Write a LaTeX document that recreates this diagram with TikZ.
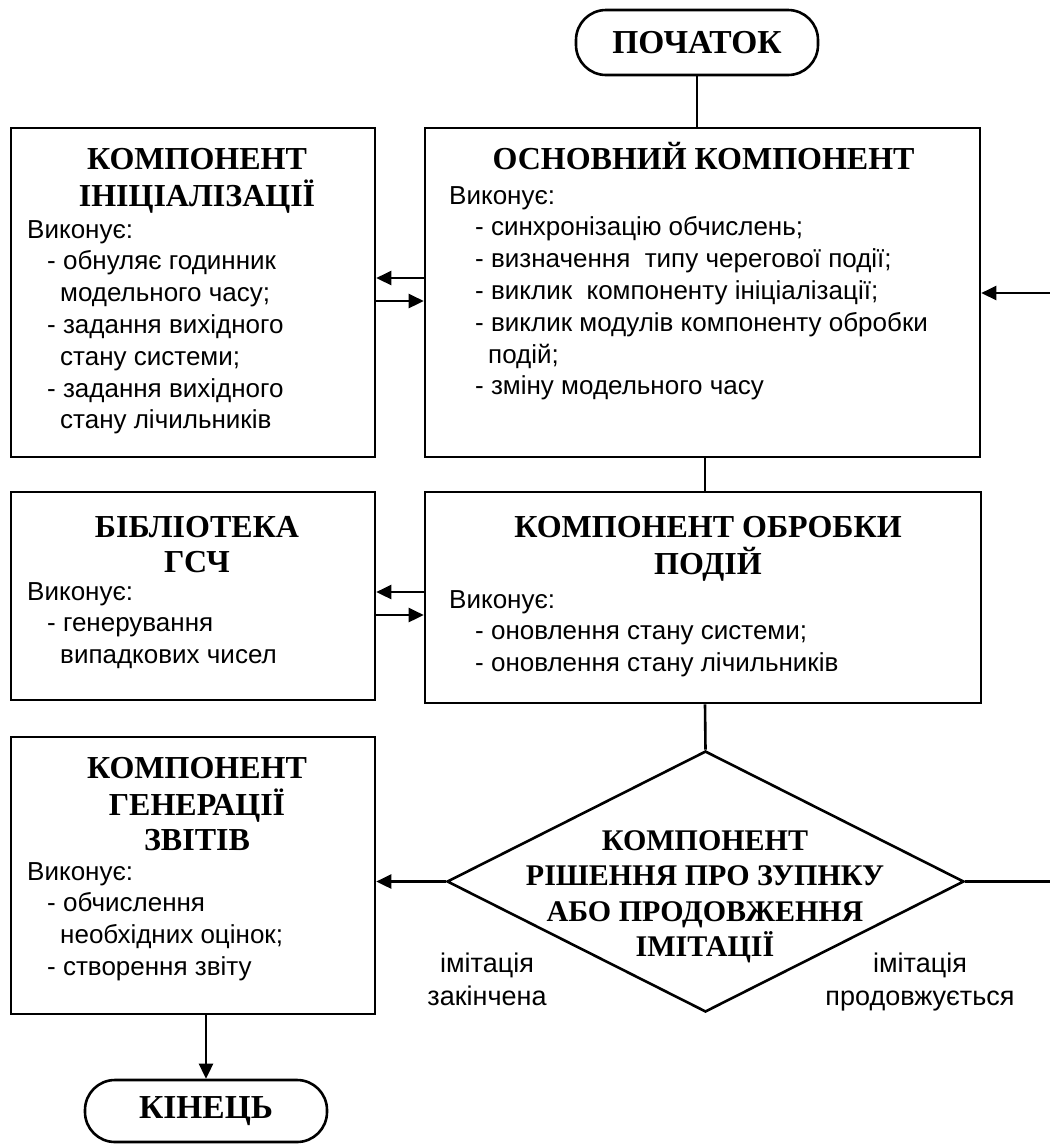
\documentclass[tikz,border=0pt]{standalone}
\usepackage{fontspec}
\setmainfont{Liberation Serif}
\setsansfont{Liberation Sans}
\usetikzlibrary{arrows.meta,shapes.geometric}
\newcommand\dd{\hspace*{20pt}-\ }
\newcommand\cc{\hspace*{33pt}}
\newcommand\md{\hspace*{26pt}-\ }
\newcommand\mc{\hspace*{39pt}}
\begin{document}
\begin{tikzpicture}[x=1pt,y=-1pt,
  box/.style={draw,line width=2.6pt,rectangle,inner sep=0pt},
  term/.style={draw,line width=2.6pt,rounded corners=30pt,minimum width=242pt,inner sep=0pt,font=\bfseries\fontsize{33.5}{35}\selectfont},
  ttl/.style={anchor=base,inner sep=0pt,font=\bfseries\fontsize{32}{35.5}\selectfont},
  dttl/.style={anchor=base,inner sep=0pt,font=\bfseries\fontsize{30}{35.5}\selectfont},
  body/.style={anchor=base west,inner sep=0pt,font=\sffamily\fontsize{26}{31.8}\selectfont},
  lbl/.style={anchor=base,inner sep=0pt,font=\sffamily\fontsize{27}{33}\selectfont},
  conn/.style={line width=2.6pt},
  arr/.style={line width=2.6pt,-{Triangle[length=15pt,width=14pt]}}
]
\useasboundingbox (0,0) rectangle (1050,1144);

% terminals
\node[term,minimum height=65pt] (start) at (697,42.5) {ПОЧАТОК};
\node[term,minimum height=62pt] (end) at (206,1111) {КІНЕЦЬ};

% boxes
\node[box,minimum width=364pt,minimum height=329pt] (init) at (193,292.5) {};
\node[box,minimum width=555pt,minimum height=329pt] (main) at (702.5,292.5) {};
\node[box,minimum width=364pt,minimum height=208pt] (gsch) at (193,596) {};
\node[box,minimum width=556pt,minimum height=211pt] (proc) at (703,597.5) {};
\node[box,minimum width=364pt,minimum height=277pt] (rep) at (193,875.5) {};
\node[draw,diamond,line width=2.6pt,minimum width=517pt,minimum height=261pt,inner sep=0pt] (dec) at (705.5,881.5) {};

% titles
\node[ttl] (tinit) at (197,169) {\begin{tabular}[t]{@{}c@{}}КОМПОНЕНТ\\ІНІЦІАЛІЗАЦІЇ\end{tabular}};
\node[ttl] (tmain) at (703.5,169) {ОСНОВНИЙ КОМПОНЕНТ};
\node[ttl] (tgsch) at (197,537) {\begin{tabular}[t]{@{}c@{}}БІБЛІОТЕКА\\ГСЧ\end{tabular}};
\node[ttl] (tproc) at (708,537) {\begin{tabular}[t]{@{}c@{}}КОМПОНЕНТ ОБРОБКИ\\ПОДІЙ\end{tabular}};
\node[ttl] (trep) at (197,778) {\begin{tabular}[t]{@{}c@{}}КОМПОНЕНТ\\ГЕНЕРАЦІЇ\\ЗВІТІВ\end{tabular}};
\node[dttl] (tdec) at (705,850) {\begin{tabular}[t]{@{}c@{}}КОМПОНЕНТ\\РІШЕННЯ ПРО ЗУПНКУ\\АБО ПРОДОВЖЕННЯ\\ІМІТАЦІЇ\end{tabular}};

% bodies
\node[body] (binit) at (27,238) {\begin{tabular}[t]{@{}l@{}}Виконує:\\
\dd обнуляє годинник\\ \cc модельного часу;\\ \dd задання вихідного\\ \cc стану системи;\\ \dd задання вихідного\\ \cc стану лічильників\end{tabular}};
\node[body] (bmain) at (449,204) {\begin{tabular}[t]{@{}l@{}}Виконує:\\
\md синхронізацію обчислень;\\ \md визначення\ \ типу черегової події;\\ \md виклик\ \ компоненту ініціалізації;\\ \md виклик модулів компоненту обробки\\ \mc подій;\\ \md зміну модельного часу\end{tabular}};
\node[body] (bgsch) at (27,600) {\begin{tabular}[t]{@{}l@{}}Виконує:\\
\dd генерування\\ \cc випадкових чисел\end{tabular}};
\node[body] (bproc) at (449,608) {\begin{tabular}[t]{@{}l@{}}Виконує:\\
\md оновлення стану системи;\\ \md оновлення стану лічильників\end{tabular}};
\node[body] (brep) at (27,880) {\begin{tabular}[t]{@{}l@{}}Виконує:\\
\dd обчислення\\ \cc необхідних оцінок;\\ \dd створення звіту\end{tabular}};

% branch labels
\node[lbl] (lend) at (487,972) {\begin{tabular}[t]{@{}c@{}}імітація\\закінчена\end{tabular}};
\node[lbl] (lcont) at (920,972) {\begin{tabular}[t]{@{}c@{}}імітація\\продовжується\end{tabular}};

% helper coordinates
\coordinate (ya) at (0,278);
\coordinate (yb) at (0,301);
\coordinate (yc) at (0,592);
\coordinate (yd) at (0,615);
\coordinate (xm) at (705,0);
\coordinate (rin) at (1052,293);
\coordinate (rout) at (1052,881.5);

% connectors
\draw[conn] (start.south) -- (start.south |- main.north);
\draw[arr] (main.west |- ya) -- (init.east |- ya);
\draw[arr] (init.east |- yb) -- (main.west |- yb);
\draw[arr] (rin) -- (main.east |- rin);
\draw[conn] (xm |- main.south) -- (xm |- proc.north);
\draw[arr] (proc.west |- yc) -- (gsch.east |- yc);
\draw[arr] (gsch.east |- yd) -- (proc.west |- yd);
\draw[conn] (xm |- proc.south) -- (dec.north);
\draw[arr] (dec.west) -- (rep.east |- dec.west);
\draw[conn] (dec.east) -- (rout);
\draw[arr] (end.north |- rep.south) -- (end.north);
\end{tikzpicture}
\end{document}
